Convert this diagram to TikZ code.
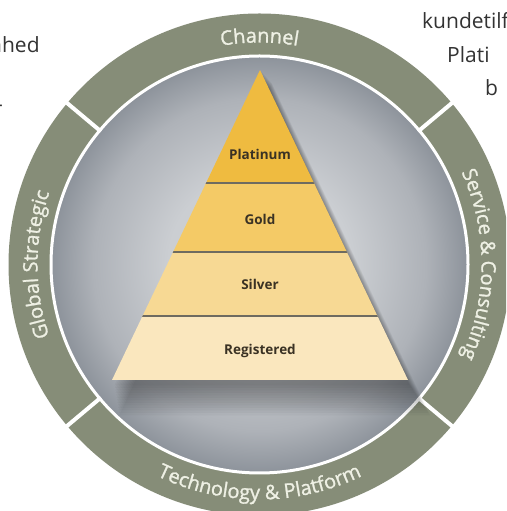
\documentclass[tikz,border=0pt]{standalone}
\usepackage{fontspec}
\setmainfont{Open Sans}
\newfontfamily\ringfont{Open Sans}[FakeBold=1.2]
\usetikzlibrary{decorations.text}
\definecolor{ringc}{HTML}{868D78}
\definecolor{ringtxt}{HTML}{EEF0E4}
\definecolor{discA}{HTML}{CBCED2}
\definecolor{discB}{HTML}{AEB2B8}
\definecolor{discC}{HTML}{8D939B}
\definecolor{platc}{HTML}{EFBB40}
\definecolor{goldc}{HTML}{F4CA66}
\definecolor{silvc}{HTML}{F7D994}
\definecolor{regc}{HTML}{FAE7BE}
\definecolor{lbl}{HTML}{3A3224}
\definecolor{sepl}{HTML}{6E6B60}
\definecolor{fragc}{HTML}{333333}
\pgfdeclareradialshading{discshade}{\pgfpoint{0bp}{0bp}}{color(0bp)=(discA); color(11bp)=(discA); color(20bp)=(discB); color(25bp)=(discC); color(50bp)=(discC)}
\tikzset{
  ringlabel/.style={decorate, decoration={text along path, text align=center, text color=ringtxt}},
  tier/.style={font=\fontsize{13.5}{14}\selectfont\bfseries, text=lbl, inner sep=0pt},
  fragtext/.style={font=\fontsize{21}{24}\selectfont, text=fragc, inner sep=0pt, anchor=base west},
  sepline/.style={white, line width=4pt},
  bandline/.style={sepl, line width=1.6pt},
}
\begin{document}
\begin{tikzpicture}[x=1pt,y=1pt]
\useasboundingbox (0,0) rectangle (506,511);
\clip (0,0) rectangle (506,511);
\fill[white] (0,0) rectangle (506,511);
\coordinate (C) at (259.5,246.5);
% ring
\fill[ringc, even odd rule] (C) circle[radius=251] (C) circle[radius=208];
% disc
\shade[shading=discshade] (C) circle[radius=208];
\draw[white, line width=3pt] (C) circle[radius=208.5];
% separators
\foreach \a in {40,140,220,320}
  \draw[sepline] ([shift={(C)}]\a:207) -- ([shift={(C)}]\a:254);
% ring labels
\path[ringlabel, decoration={text={|\ringfont\fontsize{20}{20}\selectfont|Channel}}]
  ([shift={(C)}]125:222) arc[start angle=125, end angle=55, radius=222];
\path[ringlabel, decoration={text={|\ringfont\fontsize{20}{20}\selectfont|Global Strategic}}]
  ([shift={(C)}]220:222) arc[start angle=220, end angle=140, radius=222];
\path[ringlabel, decoration={text={|\ringfont\fontsize{20}{20}\selectfont|Service {\&} Consulting}}]
  ([shift={(C)}]40:222) arc[start angle=40, end angle=-40, radius=222];
\path[ringlabel, decoration={text={|\ringfont\fontsize{20}{20}\selectfont|Technology {\&} Platform}}]
  ([shift={(C)}]215:235) arc[start angle=215, end angle=325, radius=235];
% pyramid shadow
\foreach \k in {1,...,13}
  \fill[black, opacity=0.032] (260+0.9*\k,441-\k) -- (114+0.4*\k,128-2.5*\k) -- (408+1.7*\k,128-2.5*\k) -- cycle;
% pyramid
\coordinate (A) at (260,441);
\coordinate (L) at (112,131);
\coordinate (R) at (408,131);
\begin{scope}
  \clip (A) -- (L) -- (R) -- cycle;
  \fill[regc] (100,131) rectangle (420,195);
  \fill[silvc] (100,195) rectangle (420,259);
  \fill[goldc] (100,259) rectangle (420,328);
  \fill[platc] (100,328) rectangle (420,445);
  \draw[bandline] (100,195) -- (420,195);
  \draw[bandline] (100,259) -- (420,259);
  \draw[bandline] (100,328) -- (420,328);
\end{scope}
\node[tier] (plat) at (260,357) {Platinum};
\node[tier] (gold) at (260,292) {Gold};
\node[tier] (silv) at (260,227) {Silver};
\node[tier] (reg) at (260,160) {Registered};
% surrounding text fragments
\node[fragtext] (f1) at (-11,458) {nhed};
\node[fragtext] (f5) at (-4,399) {-};
\node[fragtext] (f2) at (422,482) {kundetilf};
\node[fragtext] (f3) at (447,448) {Plati};
\node[fragtext] (f4) at (485,415) {b};
\end{tikzpicture}
\end{document}
